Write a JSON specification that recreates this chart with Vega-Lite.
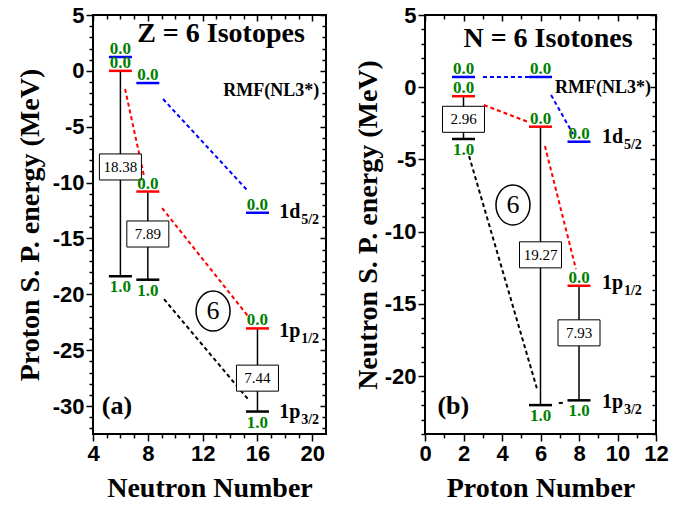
{
  "$schema": "https://vega.github.io/schema/vega-lite/v6.json",
  "autosize": {"type": "pad"},
  "padding": {"left": 15, "top": 3, "right": 0, "bottom": 0},
  "background": "white",
  "config": {
    "view": {"stroke": "#000", "strokeWidth": 2},
    "axis": {"domain": false, "grid": false, "tickColor": "#000", "tickWidth": 1.5, "labelFont": "Liberation Sans", "labelFontWeight": "bold", "labelFontSize": 22, "labelColor": "#000", "titleFont": "Liberation Serif", "titleFontWeight": "bold", "titleFontSize": 28, "titleColor": "#000", "labelOverlap": false, "labelFlush": false}
  },
  "datasets": {
    "levels": [
      {"panel": "a", "x": 6, "y": 1.24, "orb": "d", "occ": "0.0"},
      {"panel": "a", "x": 6, "y": 0, "orb": "p1", "occ": "0.0"},
      {"panel": "a", "x": 6, "y": -18.38, "orb": "p3", "occ": "1.0"},
      {"panel": "a", "x": 8, "y": -1.09, "orb": "d", "occ": "0.0"},
      {"panel": "a", "x": 8, "y": -10.8, "orb": "p1", "occ": "0.0"},
      {"panel": "a", "x": 8, "y": -18.69, "orb": "p3", "occ": "1.0"},
      {"panel": "a", "x": 16, "y": -12.7, "orb": "d", "occ": "0.0"},
      {"panel": "a", "x": 16, "y": -23.05, "orb": "p1", "occ": "0.0"},
      {"panel": "a", "x": 16, "y": -30.49, "orb": "p3", "occ": "1.0"},
      {"panel": "b", "x": 2, "y": 0.71, "orb": "d", "occ": "0.0"},
      {"panel": "b", "x": 2, "y": -0.62, "orb": "p1", "occ": "0.0"},
      {"panel": "b", "x": 2, "y": -3.58, "orb": "p3", "occ": "1.0"},
      {"panel": "b", "x": 6, "y": 0.71, "orb": "d", "occ": "0.0"},
      {"panel": "b", "x": 6, "y": -2.73, "orb": "p1", "occ": "0.0"},
      {"panel": "b", "x": 6, "y": -22.0, "orb": "p3", "occ": "1.0"},
      {"panel": "b", "x": 8, "y": -3.77, "orb": "d", "occ": "0.0"},
      {"panel": "b", "x": 8, "y": -13.74, "orb": "p1", "occ": "0.0"},
      {"panel": "b", "x": 8, "y": -21.67, "orb": "p3", "occ": "1.0"}
    ],
    "gaps": [
      {"panel": "a", "x": 6, "y": 0, "y2": -18.38},
      {"panel": "a", "x": 8, "y": -10.8, "y2": -18.69},
      {"panel": "a", "x": 16, "y": -23.05, "y2": -30.49},
      {"panel": "b", "x": 2, "y": -0.62, "y2": -3.58},
      {"panel": "b", "x": 6, "y": -2.73, "y2": -22.0},
      {"panel": "b", "x": 8, "y": -13.74, "y2": -21.67}
    ],
    "boxes": [
      {"panel": "a", "x": 6, "y": -8.6, "label": "18.38"},
      {"panel": "a", "x": 8, "y": -14.6, "label": "7.89"},
      {"panel": "a", "x": 16, "y": -27.5, "label": "7.44"},
      {"panel": "b", "x": 2, "y": -2.22, "label": "2.96"},
      {"panel": "b", "x": 6, "y": -11.6, "label": "19.27"},
      {"panel": "b", "x": 8, "y": -17.0, "label": "7.93"}
    ],
    "dashes": [
      {"panel": "a", "seg": "a1", "orb": "p1", "x": 6.34, "y": -1.62},
      {"panel": "a", "seg": "a1", "orb": "p1", "x": 7.72, "y": -9.41},
      {"panel": "a", "seg": "a2", "orb": "p1", "x": 9.04, "y": -12.28},
      {"panel": "a", "seg": "a2", "orb": "p1", "x": 15.31, "y": -21.95},
      {"panel": "a", "seg": "a3", "orb": "d", "x": 9.11, "y": -2.52},
      {"panel": "a", "seg": "a3", "orb": "d", "x": 15.31, "y": -10.76},
      {"panel": "a", "seg": "a4", "orb": "p3", "x": 9.18, "y": -20.43},
      {"panel": "a", "seg": "a4", "orb": "p3", "x": 15.31, "y": -29.38},
      {"panel": "b", "seg": "b1", "orb": "d", "x": 3.01, "y": 0.71},
      {"panel": "b", "seg": "b1", "orb": "d", "x": 5.4, "y": 0.71},
      {"panel": "b", "seg": "b2", "orb": "d", "x": 6.55, "y": -0.54},
      {"panel": "b", "seg": "b2", "orb": "d", "x": 7.69, "y": -3.24},
      {"panel": "b", "seg": "b3", "orb": "p1", "x": 3.06, "y": -1.23},
      {"panel": "b", "seg": "b3", "orb": "p1", "x": 5.35, "y": -2.4},
      {"panel": "b", "seg": "b4", "orb": "p1", "x": 6.23, "y": -4.07},
      {"panel": "b", "seg": "b4", "orb": "p1", "x": 7.84, "y": -12.58},
      {"panel": "b", "seg": "b5", "orb": "p3", "x": 2.29, "y": -4.76},
      {"panel": "b", "seg": "b5", "orb": "p3", "x": 5.82, "y": -20.88},
      {"panel": "b", "seg": "b6", "orb": "p3", "x": 6.95, "y": -21.85},
      {"panel": "b", "seg": "b6", "orb": "p3", "x": 7.2, "y": -21.85}
    ],
    "orbitals": [
      {"panel": "a", "main": "1d", "sub": "5/2", "x": 17.58, "y": -13.17},
      {"panel": "a", "main": "1p", "sub": "1/2", "x": 17.58, "y": -23.83},
      {"panel": "a", "main": "1p", "sub": "3/2", "x": 17.58, "y": -31.05},
      {"panel": "b", "main": "1d", "sub": "5/2", "x": 9.19, "y": -3.84},
      {"panel": "b", "main": "1p", "sub": "1/2", "x": 9.19, "y": -13.98},
      {"panel": "b", "main": "1p", "sub": "3/2", "x": 9.19, "y": -22.18}
    ],
    "notes": [
      {"panel": "a", "kind": "title", "text": "Z = 6 Isotopes", "x": 13.34, "y": 3.3},
      {"panel": "a", "kind": "rmf", "text": "RMF(NL3*)", "x": 17.0, "y": -1.8},
      {"panel": "a", "kind": "letter", "text": "(a)", "x": 5.75, "y": -30.0},
      {"panel": "a", "kind": "circle", "text": "6", "x": 12.76, "y": -21.5},
      {"panel": "b", "kind": "title", "text": "N = 6 Isotones", "x": 6.39, "y": 3.34},
      {"panel": "b", "kind": "rmf", "text": "RMF(NL3*)", "x": 9.25, "y": -0.05},
      {"panel": "b", "kind": "letter", "text": "(b)", "x": 1.47, "y": -22.06},
      {"panel": "b", "kind": "circle", "text": "6", "x": 4.57, "y": -8.15}
    ]
  },
  "spacing": 99,
  "bounds": "flush",
  "hconcat": [
    {
      "width": 233,
      "height": 419,
      "encoding": {
        "x": {"field": "x", "type": "quantitative", "scale": {"domain": [4, 21], "nice": false, "zero": false}, "axis": null},
        "y": {"field": "y", "type": "quantitative", "scale": {"domain": [-32.5, 5], "nice": false, "zero": false}, "axis": null}
      },
      "layer": [
        {"data": {"name": "gaps"}, "transform": [{"filter": "datum.panel === 'a'"}], "mark": {"type": "rule", "color": "#000", "strokeWidth": 1.5}, "encoding": {"y2": {"field": "y2"}}},
        {"data": {"name": "dashes"}, "transform": [{"filter": "datum.panel === 'a'"}], "mark": {"type": "line", "strokeDash": [4, 3], "strokeWidth": 2}, "encoding": {"color": {"field": "orb", "type": "nominal", "scale": {"domain": ["d", "p1", "p3"], "range": ["#0000ff", "#ff0000", "#000000"]}, "legend": null}, "detail": {"field": "seg"}}},
        {"data": {"name": "levels"}, "transform": [{"filter": "datum.panel === 'a'"}], "mark": {"type": "tick", "orient": "horizontal", "size": 23, "thickness": 2.5, "opacity": 1},
          "encoding": {
            "x": {"field": "x", "type": "quantitative", "scale": {"domain": [4, 21], "nice": false, "zero": false},
              "axis": {"orient": "bottom", "values": [4,5,6,7,8,9,10,11,12,13,14,15,16,17,18,19,20], "labelExpr": "datum.value % 4 === 0 ? '' + datum.value : ''", "tickSize": {"condition": {"test": "datum.value % 4 === 0", "value": 7}, "value": 4}, "title": "Neutron Number", "labelPadding": 2, "titlePadding": 10}},
            "y": {"field": "y", "type": "quantitative", "scale": {"domain": [-32.5, 5], "nice": false, "zero": false},
              "axis": {"orient": "left", "values": [-32,-31,-30,-29,-28,-27,-26,-25,-24,-23,-22,-21,-20,-19,-18,-17,-16,-15,-14,-13,-12,-11,-10,-9,-8,-7,-6,-5,-4,-3,-2,-1,0,1,2,3,4,5], "labelExpr": "datum.value % 5 === 0 ? '' + datum.value : ''", "tickSize": {"condition": {"test": "datum.value % 5 === 0", "value": 7}, "value": 4}, "title": "Proton S. P. energy (MeV)", "labelPadding": 2, "titlePadding": 8}},
            "color": {"field": "orb", "type": "nominal", "scale": {"domain": ["d", "p1", "p3"], "range": ["#0000ff", "#ff0000", "#000000"]}, "legend": null}
          }},
        {"data": {"name": "boxes"}, "transform": [{"filter": "datum.panel === 'a'"}], "mark": {"type": "point", "shape": "M -1 -0.62 L 1 -0.62 L 1 0.62 L -1 0.62 Z", "size": 1764, "filled": true, "fill": "#ffffff", "stroke": "#000", "strokeWidth": 1, "opacity": 1}},
        {"data": {"name": "boxes"}, "transform": [{"filter": "datum.panel === 'a'"}], "mark": {"type": "text", "font": "Liberation Serif", "fontSize": 15, "baseline": "middle", "align": "center"}, "encoding": {"text": {"field": "label"}}},
        {"data": {"name": "levels"}, "transform": [{"filter": "datum.panel === 'a' && datum.orb !== 'p3'"}], "mark": {"type": "text", "font": "Liberation Serif", "fontWeight": "bold", "fontSize": 17, "fill": "#008000", "baseline": "alphabetic", "align": "center", "dy": -3}, "encoding": {"text": {"field": "occ"}}},
        {"data": {"name": "levels"}, "transform": [{"filter": "datum.panel === 'a' && datum.orb === 'p3'"}], "mark": {"type": "text", "font": "Liberation Serif", "fontWeight": "bold", "fontSize": 17, "fill": "#008000", "baseline": "top", "align": "center", "dy": 3}, "encoding": {"text": {"field": "occ"}}},
        {"data": {"name": "orbitals"}, "transform": [{"filter": "datum.panel === 'a'"}], "mark": {"type": "text", "font": "Liberation Serif", "fontWeight": "bold", "fontSize": 20, "align": "left", "baseline": "alphabetic"}, "encoding": {"text": {"field": "main"}}},
        {"data": {"name": "orbitals"}, "transform": [{"filter": "datum.panel === 'a'"}], "mark": {"type": "text", "font": "Liberation Serif", "fontWeight": "bold", "fontSize": 14, "align": "left", "baseline": "alphabetic", "dx": 22, "dy": 6}, "encoding": {"text": {"field": "sub"}}},
        {"data": {"name": "notes"}, "transform": [{"filter": "datum.panel === 'a' && datum.kind === 'title'"}], "mark": {"type": "text", "font": "Liberation Serif", "fontWeight": "bold", "fontSize": 28, "align": "center", "baseline": "middle"}, "encoding": {"text": {"field": "text"}}},
        {"data": {"name": "notes"}, "transform": [{"filter": "datum.panel === 'a' && datum.kind === 'rmf'"}], "mark": {"type": "text", "font": "Liberation Serif", "fontWeight": "bold", "fontSize": 18, "align": "center", "baseline": "middle"}, "encoding": {"text": {"field": "text"}}},
        {"data": {"name": "notes"}, "transform": [{"filter": "datum.panel === 'a' && datum.kind === 'letter'"}], "mark": {"type": "text", "font": "Liberation Serif", "fontWeight": "bold", "fontSize": 26, "align": "center", "baseline": "middle"}, "encoding": {"text": {"field": "text"}}},
        {"data": {"name": "notes"}, "transform": [{"filter": "datum.panel === 'a' && datum.kind === 'circle'"}], "mark": {"type": "point", "shape": "M -0.85 0 A 0.85 1 0 1 1 0.85 0 A 0.85 1 0 1 1 -0.85 0 Z", "size": 1600, "filled": false, "stroke": "#000", "strokeWidth": 1.5, "opacity": 1}},
        {"data": {"name": "notes"}, "transform": [{"filter": "datum.panel === 'a' && datum.kind === 'circle'"}], "mark": {"type": "text", "font": "Liberation Serif", "fontSize": 26, "align": "center", "baseline": "middle"}, "encoding": {"text": {"field": "text"}}},
        {"data": {"name": "levels"}, "transform": [{"filter": "datum.panel === 'a'"}], "mark": {"type": "point", "opacity": 0},
          "encoding": {
            "x": {"field": "x", "type": "quantitative", "scale": {"domain": [4, 21], "nice": false, "zero": false},
              "axis": {"orient": "top", "values": [4,5,6,7,8,9,10,11,12,13,14,15,16,17,18,19,20], "labels": false, "title": null, "tickSize": {"condition": {"test": "datum.value % 4 === 0", "value": -6}, "value": -4}}},
            "y": {"field": "y", "type": "quantitative", "scale": {"domain": [-32.5, 5], "nice": false, "zero": false},
              "axis": {"orient": "right", "values": [-32,-31,-30,-29,-28,-27,-26,-25,-24,-23,-22,-21,-20,-19,-18,-17,-16,-15,-14,-13,-12,-11,-10,-9,-8,-7,-6,-5,-4,-3,-2,-1,0,1,2,3,4,5], "labels": false, "title": null, "tickSize": {"condition": {"test": "datum.value % 5 === 0", "value": -6}, "value": -4}}}
          }}
      ],
      "resolve": {"axis": {"x": "independent", "y": "independent"}}
    },
    {
      "width": 231,
      "height": 419,
      "encoding": {
        "x": {"field": "x", "type": "quantitative", "scale": {"domain": [0, 12], "nice": false, "zero": false}, "axis": null},
        "y": {"field": "y", "type": "quantitative", "scale": {"domain": [-24, 5], "nice": false, "zero": false}, "axis": null}
      },
      "layer": [
        {"data": {"name": "gaps"}, "transform": [{"filter": "datum.panel === 'b'"}], "mark": {"type": "rule", "color": "#000", "strokeWidth": 1.5}, "encoding": {"y2": {"field": "y2"}}},
        {"data": {"name": "dashes"}, "transform": [{"filter": "datum.panel === 'b'"}], "mark": {"type": "line", "strokeDash": [4, 3], "strokeWidth": 2}, "encoding": {"color": {"field": "orb", "type": "nominal", "scale": {"domain": ["d", "p1", "p3"], "range": ["#0000ff", "#ff0000", "#000000"]}, "legend": null}, "detail": {"field": "seg"}}},
        {"data": {"name": "levels"}, "transform": [{"filter": "datum.panel === 'b'"}], "mark": {"type": "tick", "orient": "horizontal", "size": 23, "thickness": 2.5, "opacity": 1},
          "encoding": {
            "x": {"field": "x", "type": "quantitative", "scale": {"domain": [0, 12], "nice": false, "zero": false},
              "axis": {"orient": "bottom", "values": [0,1,2,3,4,5,6,7,8,9,10,11,12], "labelExpr": "datum.value % 2 === 0 ? '' + datum.value : ''", "tickSize": {"condition": {"test": "datum.value % 2 === 0", "value": 7}, "value": 4}, "title": "Proton Number", "labelPadding": 2, "titlePadding": 10}},
            "y": {"field": "y", "type": "quantitative", "scale": {"domain": [-24, 5], "nice": false, "zero": false},
              "axis": {"orient": "left", "values": [-24,-23,-22,-21,-20,-19,-18,-17,-16,-15,-14,-13,-12,-11,-10,-9,-8,-7,-6,-5,-4,-3,-2,-1,0,1,2,3,4,5], "labelExpr": "datum.value % 5 === 0 ? '' + datum.value : ''", "tickSize": {"condition": {"test": "datum.value % 5 === 0", "value": 7}, "value": 4}, "title": "Neutron S. P. energy (MeV)", "labelPadding": 2, "titlePadding": 2}},
            "color": {"field": "orb", "type": "nominal", "scale": {"domain": ["d", "p1", "p3"], "range": ["#0000ff", "#ff0000", "#000000"]}, "legend": null}
          }},
        {"data": {"name": "boxes"}, "transform": [{"filter": "datum.panel === 'b'"}], "mark": {"type": "point", "shape": "M -1 -0.62 L 1 -0.62 L 1 0.62 L -1 0.62 Z", "size": 1764, "filled": true, "fill": "#ffffff", "stroke": "#000", "strokeWidth": 1, "opacity": 1}},
        {"data": {"name": "boxes"}, "transform": [{"filter": "datum.panel === 'b'"}], "mark": {"type": "text", "font": "Liberation Serif", "fontSize": 15, "baseline": "middle", "align": "center"}, "encoding": {"text": {"field": "label"}}},
        {"data": {"name": "levels"}, "transform": [{"filter": "datum.panel === 'b' && datum.orb !== 'p3'"}], "mark": {"type": "text", "font": "Liberation Serif", "fontWeight": "bold", "fontSize": 17, "fill": "#008000", "baseline": "alphabetic", "align": "center", "dy": -3}, "encoding": {"text": {"field": "occ"}}},
        {"data": {"name": "levels"}, "transform": [{"filter": "datum.panel === 'b' && datum.orb === 'p3'"}], "mark": {"type": "text", "font": "Liberation Serif", "fontWeight": "bold", "fontSize": 17, "fill": "#008000", "baseline": "top", "align": "center", "dy": 3}, "encoding": {"text": {"field": "occ"}}},
        {"data": {"name": "orbitals"}, "transform": [{"filter": "datum.panel === 'b'"}], "mark": {"type": "text", "font": "Liberation Serif", "fontWeight": "bold", "fontSize": 20, "align": "left", "baseline": "alphabetic"}, "encoding": {"text": {"field": "main"}}},
        {"data": {"name": "orbitals"}, "transform": [{"filter": "datum.panel === 'b'"}], "mark": {"type": "text", "font": "Liberation Serif", "fontWeight": "bold", "fontSize": 14, "align": "left", "baseline": "alphabetic", "dx": 22, "dy": 6}, "encoding": {"text": {"field": "sub"}}},
        {"data": {"name": "notes"}, "transform": [{"filter": "datum.panel === 'b' && datum.kind === 'title'"}], "mark": {"type": "text", "font": "Liberation Serif", "fontWeight": "bold", "fontSize": 28, "align": "center", "baseline": "middle"}, "encoding": {"text": {"field": "text"}}},
        {"data": {"name": "notes"}, "transform": [{"filter": "datum.panel === 'b' && datum.kind === 'rmf'"}], "mark": {"type": "text", "font": "Liberation Serif", "fontWeight": "bold", "fontSize": 18, "align": "center", "baseline": "middle"}, "encoding": {"text": {"field": "text"}}},
        {"data": {"name": "notes"}, "transform": [{"filter": "datum.panel === 'b' && datum.kind === 'letter'"}], "mark": {"type": "text", "font": "Liberation Serif", "fontWeight": "bold", "fontSize": 26, "align": "center", "baseline": "middle"}, "encoding": {"text": {"field": "text"}}},
        {"data": {"name": "notes"}, "transform": [{"filter": "datum.panel === 'b' && datum.kind === 'circle'"}], "mark": {"type": "point", "shape": "M -0.85 0 A 0.85 1 0 1 1 0.85 0 A 0.85 1 0 1 1 -0.85 0 Z", "size": 1600, "filled": false, "stroke": "#000", "strokeWidth": 1.5, "opacity": 1}},
        {"data": {"name": "notes"}, "transform": [{"filter": "datum.panel === 'b' && datum.kind === 'circle'"}], "mark": {"type": "text", "font": "Liberation Serif", "fontSize": 26, "align": "center", "baseline": "middle"}, "encoding": {"text": {"field": "text"}}},
        {"data": {"name": "levels"}, "transform": [{"filter": "datum.panel === 'b'"}], "mark": {"type": "point", "opacity": 0},
          "encoding": {
            "x": {"field": "x", "type": "quantitative", "scale": {"domain": [0, 12], "nice": false, "zero": false},
              "axis": {"orient": "top", "values": [0,1,2,3,4,5,6,7,8,9,10,11,12], "labels": false, "title": null, "tickSize": {"condition": {"test": "datum.value % 2 === 0", "value": -6}, "value": -4}}},
            "y": {"field": "y", "type": "quantitative", "scale": {"domain": [-24, 5], "nice": false, "zero": false},
              "axis": {"orient": "right", "values": [-24,-23,-22,-21,-20,-19,-18,-17,-16,-15,-14,-13,-12,-11,-10,-9,-8,-7,-6,-5,-4,-3,-2,-1,0,1,2,3,4,5], "labels": false, "title": null, "tickSize": {"condition": {"test": "datum.value % 5 === 0", "value": -6}, "value": -4}}}
          }}
      ],
      "resolve": {"axis": {"x": "independent", "y": "independent"}}
    }
  ]
}
